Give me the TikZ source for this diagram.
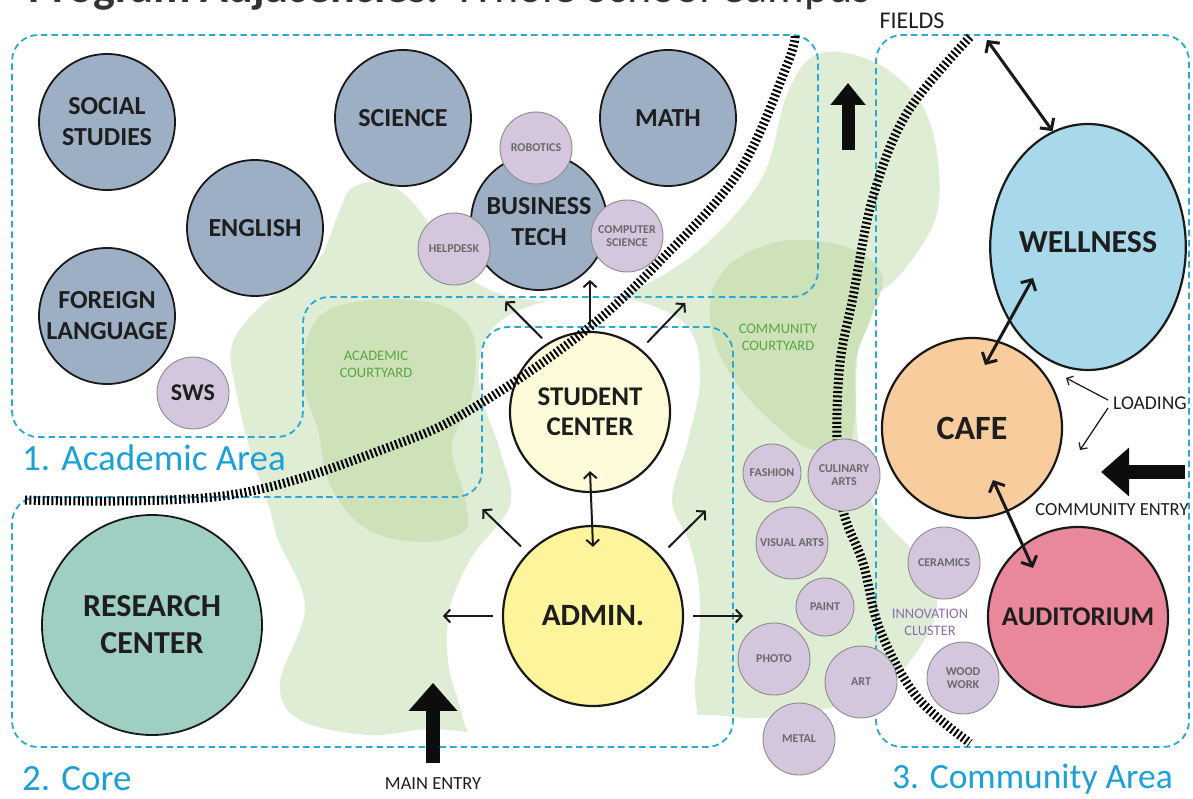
\documentclass[tikz,border=0pt]{standalone}
\usepackage{fontspec}
\setmainfont{Carlito}
\usetikzlibrary{arrows.meta,calc,shapes.geometric}
\definecolor{acad}{HTML}{9DAFC5}
\definecolor{purp}{HTML}{D3C6DD}
\definecolor{subedge}{HTML}{8C8C8C}
\definecolor{subtxt}{HTML}{6A6A6A}
\definecolor{txt}{HTML}{1E1E1E}
\definecolor{resc}{HTML}{9ECFC2}
\definecolor{scc}{HTML}{FEFBDA}
\definecolor{admc}{HTML}{FEF49C}
\definecolor{wellc}{HTML}{A8D9EB}
\definecolor{cafec}{HTML}{F9CC9D}
\definecolor{audc}{HTML}{E9889B}
\definecolor{lg}{HTML}{E0EDD5}
\definecolor{dg}{HTML}{CDE2B9}
\definecolor{zonec}{HTML}{2AA8D8}
\definecolor{zonetxt}{HTML}{1DA0D7}
\definecolor{greentxt}{HTML}{5DA544}
\definecolor{purptxt}{HTML}{8E6DAE}
\definecolor{titlec}{HTML}{333333}
\tikzset{
 zone/.style={draw=zonec, line width=1.8pt, dash pattern=on 6.5pt off 4pt, rounded corners=26pt},
 rail/.style={draw=black, line width=9pt, dash pattern=on 2pt off 2.4pt},
 bigc/.style={circle, draw=black!90, line width=1.8pt, inner sep=0pt, align=center, text=txt},
 acadc/.style={bigc, fill=acad, minimum size=136pt, font=\bfseries\fontsize{26}{31}\selectfont},
 subc/.style={circle, draw=subedge, line width=0.9pt, fill=purp, inner sep=0pt, align=center, text=subtxt, font=\bfseries\fontsize{12}{13.5}\selectfont},
 subs/.style={subc, minimum size=72pt},
 subt/.style={subc, minimum size=58pt},
 lbl/.style={inner sep=0pt, align=center, text=txt},
 zonelbl/.style={inner sep=0pt, anchor=base west, text=zonetxt, font=\fontsize{37}{40}\selectfont},
 yardlbl/.style={inner sep=0pt, align=center, text=greentxt, font=\fontsize{14.5}{17}\selectfont},
 conn/.style={draw=black!90, line width=2pt, -{Straight Barb[length=6pt,width=13pt]}},
 conntwo/.style={draw=black!90, line width=2pt, {Straight Barb[length=6pt,width=13pt]}-{Straight Barb[length=6pt,width=13pt]}},
 connthree/.style={draw=black!90, line width=3pt, {Straight Barb[length=8pt,width=17pt]}-{Straight Barb[length=8pt,width=17pt]}},
 thinarr/.style={draw=black!90, line width=1.2pt, -{Straight Barb[length=5pt,width=10pt]}},
 blockarr/.style={draw=black!95, line width=14pt, -{Triangle[length=28pt,width=47pt]}},
}
\begin{document}
\begin{tikzpicture}[x=1pt,y=-1pt]
\useasboundingbox (0,0) rectangle (1193,799);
\clip (0,0) rectangle (1193,799);
\fill[white] (0,0) rectangle (1193,799);

% title (cut off at the top, as in the reference)
\node[anchor=base west, inner sep=0pt, text=titlec, font=\fontsize{46}{52}\selectfont] (title) at (28,3) {\textbf{Program Adjacencies:} Whole School Campus};

% green open space
\fill[lg] plot[smooth cycle, tension=0.6] coordinates {(232,345) (262,305) (315,265) (338,215) (352,188) (385,183) (415,205) (445,250) (480,285) (530,300) (600,300) (645,285) (705,245) (762,178) (785,100) (808,60) (840,52) (885,68) (922,105) (938,160) (935,220) (900,275) (868,305) (857,360) (858,440) (873,505) (918,558) (937,605) (918,650) (880,690) (830,708) (760,718) (700,715) (640,725) (540,740) (450,730) (417,730) (367,735) (300,720) (280,683) (305,607) (278,540) (270,510) (250,450) (236,390)};
\fill[white] plot[smooth cycle, tension=0.6] coordinates {(520,310) (590,295) (650,305) (690,330) (700,380) (688,440) (672,500) (690,545) (700,600) (695,680) (680,760) (500,760) (455,690) (448,620) (470,560) (510,505) (500,450) (480,390) (485,340)};
\fill[dg] plot[smooth cycle, tension=0.6] coordinates {(318,318) (370,300) (440,305) (473,335) (472,395) (452,445) (464,495) (465,530) (420,542) (365,528) (330,485) (318,430) (302,375)};
\fill[dg] plot[smooth cycle, tension=0.6] coordinates {(712,292) (738,258) (790,240) (850,248) (882,275) (872,315) (856,360) (855,420) (843,450) (805,447) (770,420) (738,385) (714,340)};

% zones
\draw[zone] (400,35) -- (818,35) -- (818,297) -- (303,297) -- (303,437) -- (12,437) -- (12,35) -- cycle;
\draw[zone] (300,497) -- (482,497) -- (482,327) -- (733,327) -- (733,747) -- (12,747) -- (12,497) -- cycle;
\draw[zone] (1000,35) -- (1189,35) -- (1189,747) -- (876,747) -- (876,35) -- cycle;

% right rail line
\draw[rail] plot[smooth, tension=0.6] coordinates {(970,37) (907,113) (873,197) (853,297) (840,363) (837,440) (843,510) (863,563) (880,630) (917,697) (970,743)};

% academic
\node[acadc] (ss) at (107,122) {SOCIAL\\STUDIES};
\node[acadc] (sci) at (403,118) {SCIENCE};
\node[acadc] (math) at (668,118) {MATH};
\node[acadc] (eng) at (255,228) {ENGLISH};
\node[acadc] (fl) at (107,316) {FOREIGN\\LANGUAGE};
\node[acadc] (bt) at (539,222) {BUSINESS\\TECH};
\node[subs] (rob) at (536,148) {ROBOTICS};
\node[subs] (help) at (454,249) {HELPDESK};
\node[subs] (cs) at (627,236) {COMPUTER\\SCIENCE};
\node[subs, text=txt, font=\bfseries\fontsize{24}{28}\selectfont] (sws) at (193,393) {SWS};

% core
\node[bigc, fill=resc, minimum size=220pt, font=\bfseries\fontsize{32}{37}\selectfont] (rc) at (152,625) {RESEARCH\\CENTER};
\node[bigc, fill=scc, line width=2.2pt, minimum size=160pt, font=\bfseries\fontsize{27}{30}\selectfont] (sc) at (590,412) {STUDENT\\CENTER};
\node[bigc, fill=admc, line width=2.2pt, minimum size=180pt, font=\bfseries\fontsize{31}{36}\selectfont] (adm) at (593,616) {ADMIN.};

% community
\node[ellipse, draw=black!90, line width=2.2pt, fill=wellc, minimum width=190pt, minimum height=246pt, inner sep=0pt, text=txt, font=\bfseries\fontsize{32}{36}\selectfont] (well) at (1088,247) {\raisebox{10pt}{WELLNESS}};
\node[bigc, fill=cafec, line width=2.2pt, minimum size=180pt, font=\bfseries\fontsize{34}{38}\selectfont] (cafe) at (972,428) {CAFE};
\node[bigc, fill=audc, line width=2.2pt, minimum size=180pt, font=\bfseries\fontsize{27}{30}\selectfont] (aud) at (1078,617) {AUDITORIUM};

% innovation cluster
\node[subt] (fash) at (772,473) {FASHION};
\node[subs] (cul) at (844,475) {CULINARY\\ARTS};
\node[subs] (vis) at (792,543) {VISUAL ARTS};
\node[subt] (paint) at (825,607) {PAINT};
\node[subs] (photo) at (774,659) {PHOTO};
\node[subs] (art) at (861,682) {ART};
\node[subs] (metal) at (799,739) {METAL};
\node[subs] (cer) at (944,563) {CERAMICS};
\node[subs] (wood) at (963,678) {WOOD\\WORK};

% left rail line (passes over the student center)
\draw[rail] plot[smooth, tension=0.6] coordinates {(25,500) (230,495) (400,443) (483,402) (586,330) (664,257) (740,170) (787,65) (795,35)};

% connectors from student center
\draw[conn, shorten <=7pt] (sc.122.4) -- ++(-41.7,-41.8);
\draw[conn, shorten <=6pt] (sc.north) -- ++(0,-51);
\draw[conn, shorten <=9pt] (sc.51.1) -- ++(44.3,-46.1);
\draw[conntwo] ($(sc.south)+(0,-22)$) -- ($(adm.north)+(0,22)$);
% connectors from admin
\draw[conn, shorten <=9pt] (adm.136.6) -- ++(-45,-43.6);
\draw[conn, shorten <=11pt] (adm.42.6) -- ++(45.1,-44.5);
\draw[conn, shorten <=9pt] (adm.west) -- ++(-59,0);
\draw[conn, shorten <=9pt] (adm.east) -- ++(59,0);

% community connectors
\coordinate (fa) at (987,40);
\draw[connthree] (fa) -- (well.107.5);
\draw[connthree] ($(well.center)+(-55,31)$) -- ($(cafe.center)+(13,-63)$);
\draw[connthree] ($(cafe.center)+(21,52)$) -- ($(aud.center)+(-45,-49)$);

% text labels
\node[lbl, font=\fontsize{24}{26}\selectfont] (fields) at (912,21) {FIELDS};
\node[lbl, font=\fontsize{19.5}{22}\selectfont] (load) at (1150,403) {LOADING};
\node[lbl, font=\fontsize{18.5}{21}\selectfont] (centry) at (1112,510) {COMMUNITY ENTRY};
\node[lbl, font=\fontsize{18.5}{21}\selectfont] (mentry) at (433,784) {MAIN ENTRY};
\node[yardlbl] (acy) at (376,364) {ACADEMIC\\COURTYARD};
\node[yardlbl] (ccy) at (778,337) {COMMUNITY\\COURTYARD};
\node[yardlbl, text=purptxt] (innov) at (930,622) {INNOVATION\\CLUSTER};

\draw[thinarr] ($(load.west)+(-5,-3)$) -- ++(-42,-22);
\draw[thinarr] ($(load.west)+(-5,5)$) -- ++(-28,42);

% block arrows
\coordinate (ce1) at (1185,472);
\coordinate (ce2) at (1101,472);
\draw[blockarr] (ce1) -- (ce2);
\draw[blockarr] ($(mentry.north)+(0,-15)$) -- ++(0,-80);
\coordinate (n1) at (848,150);
\coordinate (n2) at (848,83);
\draw[blockarr, line width=13pt, -{Triangle[length=22pt,width=34pt]}] (n1) -- (n2);

% zone labels
\node[zonelbl] (za) at (22,470) {1. Academic Area};
\node[zonelbl] (zc) at (22,790) {2. Core};
\node[zonelbl, font=\fontsize{35.5}{38}\selectfont] (zm) at (892,788) {3. Community Area};
\end{tikzpicture}
\end{document}
